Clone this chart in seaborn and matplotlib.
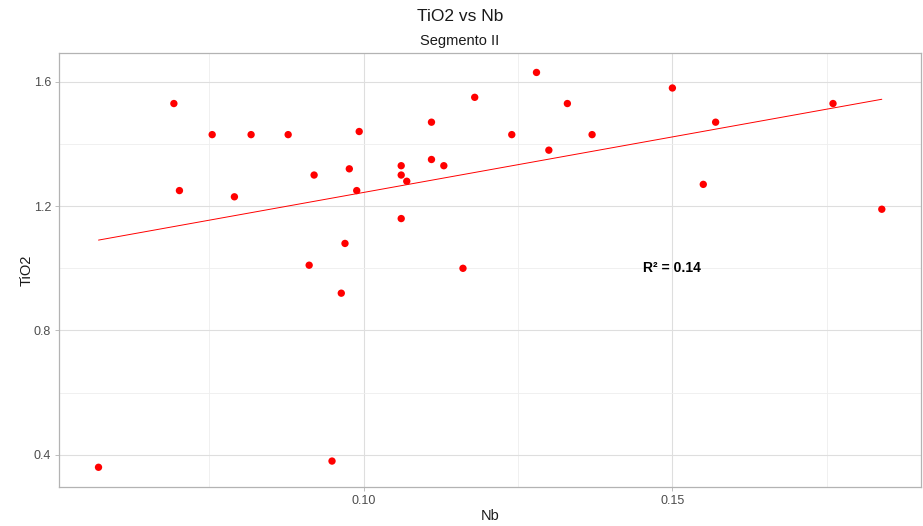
import numpy as np
import pandas as pd
import matplotlib
matplotlib.use("Agg")
import matplotlib.pyplot as plt
from matplotlib.ticker import MultipleLocator
import seaborn as sns

nb = [0.0693, 0.0702, 0.0755, 0.0818, 0.0878, 0.0791, 0.0920, 0.0970, 0.0977,
      0.0989, 0.0993, 0.1061, 0.1061, 0.1070, 0.1061, 0.1110, 0.1110, 0.1130,
      0.0912, 0.0964, 0.0949, 0.0571, 0.1161, 0.1180, 0.1280, 0.1240, 0.1300,
      0.1330, 0.1370, 0.1500, 0.1570, 0.1550, 0.1760, 0.1839]
tio2 = [1.53, 1.25, 1.43, 1.43, 1.43, 1.23, 1.30, 1.08, 1.32,
        1.25, 1.44, 1.33, 1.30, 1.28, 1.16, 1.47, 1.35, 1.33,
        1.01, 0.92, 0.38, 0.36, 1.00, 1.55, 1.63, 1.43, 1.38,
        1.53, 1.43, 1.58, 1.47, 1.27, 1.53, 1.19]
title = "TiO2 vs Nb"
subtitle = "Segmento II"
r2_label = "R² = 0.14"

df = pd.DataFrame({"Nb": nb, "TiO2": tio2})

sns.set_style("whitegrid")
plt.rcParams['font.family'] = ['Liberation Sans', 'DejaVu Sans']

fig = plt.figure(figsize=(9.23, 5.26), dpi=100)
ax = fig.add_axes([0.0643, 0.0741, 0.9335, 0.8257])

sns.regplot(data=df, x="Nb", y="TiO2", scatter=False, ci=None, ax=ax,
            line_kws=dict(color="red", lw=0.7))
sns.scatterplot(data=df, x="Nb", y="TiO2", ax=ax, color="red", s=28,
                edgecolor="none", zorder=3)

xr = max(nb) - min(nb)
yr = max(tio2) - min(tio2)
ax.set_xlim(min(nb) - 0.05 * xr, max(nb) + 0.05 * xr)
ax.set_ylim(min(tio2) - 0.05 * yr, max(tio2) + 0.05 * yr)

ax.xaxis.set_major_locator(MultipleLocator(0.05))
ax.xaxis.set_minor_locator(MultipleLocator(0.025))
ax.yaxis.set_major_locator(MultipleLocator(0.4))
ax.yaxis.set_minor_locator(MultipleLocator(0.2))
ax.xaxis.set_major_formatter(matplotlib.ticker.FormatStrFormatter("%.2f"))
ax.yaxis.set_major_formatter(matplotlib.ticker.FormatStrFormatter("%.1f"))

ax.grid(which="major", color="#dedede", lw=0.8)
ax.grid(which="minor", color="#eeeeee", lw=0.6)
ax.set_axisbelow(True)
for s in ax.spines.values():
    s.set_color("#b3b3b3")
    s.set_linewidth(0.9)

ax.tick_params(axis="both", which="major", labelsize=9, labelcolor="#4d4d4d",
               color="#b3b3b3", length=3, width=0.6, pad=3, bottom=True, left=True)
ax.tick_params(axis="both", which="minor", length=0)

ax.set_xlabel("Nb", fontsize=10.5, color="#1a1a1a", labelpad=1)
ax.set_ylabel("TiO2", fontsize=10.5, color="#1a1a1a", labelpad=0)

ax.text(0.15, 1.0, r2_label, fontsize=10, fontweight="bold", ha="center",
        va="center", color="black")

fig.text(0.4985, 0.968, title, ha="center", va="center", fontsize=12.5, color="#1a1a1a")
fig.text(0.4985, 0.923, subtitle, ha="center", va="center", fontsize=10.5, color="#1a1a1a")

fig.savefig("out.png", dpi=100)
